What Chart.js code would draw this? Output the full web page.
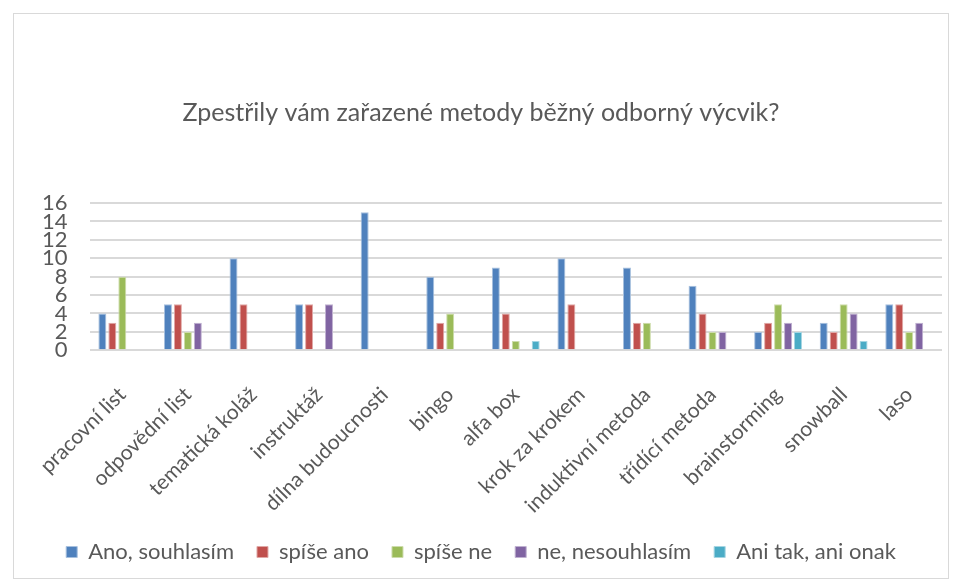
<!DOCTYPE html>
<html>
<head>
<meta charset="utf-8">
<script src="https://cdn.jsdelivr.net/npm/chart.js@4"></script>
<style>
  html, body { margin: 0; padding: 0; background: #fff; }
  #frame { position: absolute; left: 13px; top: 13px; width: 934px; height: 564px; border: 1px solid #d9d9d9; }
  #wrap { position: absolute; left: 0; top: 0; width: 960px; height: 583px; }
</style>
</head>
<body>
<div id="frame"></div>
<div id="wrap"><canvas id="c" width="960" height="583"></canvas></div>
<script>
// ── Data ──────────────────────────────────────────────────────────────────────
const categories = ['pracovní list', 'odpovědní list', 'tematická koláž', 'instruktáž', 'dílna budoucnosti',
                    'bingo', 'alfa box', 'krok za krokem', 'induktivní metoda', 'třídící metoda',
                    'brainstorming', 'snowball', 'laso'];
const seriesNames = ['Ano, souhlasím', 'spíše ano', 'spíše ne', 'ne, nesouhlasím', 'Ani tak, ani onak'];
const ano      = [4, 5, 10, 5, 15, 8, 9, 10, 9, 7, 2, 3, 5];
const spiseAno = [3, 5, 5, 5, 0, 3, 4, 5, 3, 4, 3, 2, 5];
const spiseNe  = [8, 2, 0, 0, 0, 4, 1, 0, 3, 2, 5, 5, 2];
const ne       = [0, 3, 0, 5, 0, 0, 0, 0, 0, 2, 3, 4, 3];
const aniTak   = [0, 0, 0, 0, 0, 0, 1, 0, 0, 0, 2, 1, 0];
const yTicks   = [0, 2, 4, 6, 8, 10, 12, 14, 16];

const colors  = ['#4f81bd', '#c0504d', '#9bbb59', '#8064a2', '#4bacc6'];
const borders = ['#a7c0de', '#e0a8a6', '#cddcab', '#bfb1d0', '#a5d5e2'];
const FONT = 'Lato, "Open Sans", sans-serif';
const TXT  = '#595959';

const datasets = [ano, spiseAno, spiseNe, ne, aniTak].map((d, i) => ({
    label: seriesNames[i], data: d,
    backgroundColor: colors[i], borderColor: borders[i], borderWidth: 1,
    barPercentage: 0.8, categoryPercentage: 0.76,
}));

new Chart(document.getElementById('c'), {
    type: 'bar',
    data: { labels: categories, datasets },
    options: {
        responsive: false, animation: false,
        layout: { padding: { left: 20, right: 18, top: 0, bottom: 10 } },
        plugins: {
            title: { display: true, text: 'Zpestřily vám zařazené metody běžný odborný výcvik?', color: TXT,
                     font: { family: FONT, size: 25, weight: 'normal' }, padding: { top: 98, bottom: 75 } },
            legend: { position: 'bottom',
                      labels: { color: TXT, boxWidth: 11, boxHeight: 11, padding: 23, font: { family: FONT, size: 22 } } },
            tooltip: { enabled: false },
        },
        scales: {
            x: { grid: { display: false }, border: { display: false },
                 afterFit: s => { s.height -= 24; },
                 ticks: { color: TXT, minRotation: 45, maxRotation: 45, autoSkip: false, padding: 24, font: { family: FONT, size: 21 } } },
            y: { min: 0, max: 16, afterBuildTicks: ax => { ax.ticks = yTicks.map(v => ({ value: v })); },
                 grid: { color: '#d9d9d9', lineWidth: 2, drawTicks: false }, border: { display: false },
                 ticks: { color: TXT, padding: 22, autoSkip: false, font: { family: FONT, size: 22 } } },
        },
    },
});
</script>
</body>
</html>
